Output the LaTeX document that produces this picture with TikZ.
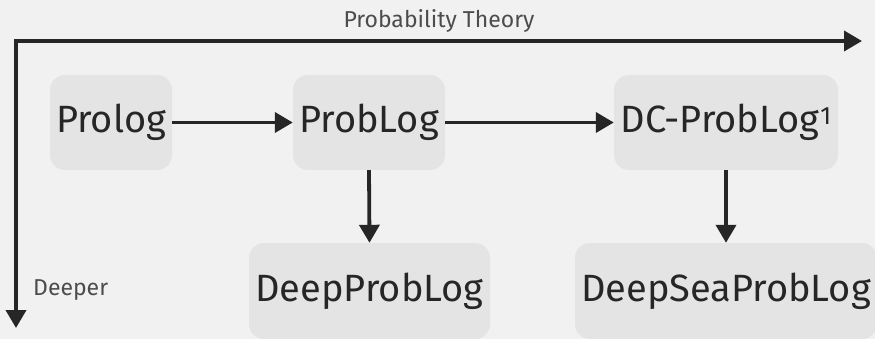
\documentclass[tikz,border=0pt]{standalone}
\usepackage{fontspec}
\setmainfont{Fira Sans}[Numbers=Lining]
\usetikzlibrary{arrows.meta}
\definecolor{bgc}{HTML}{F1F1F1}
\definecolor{boxc}{HTML}{E4E4E4}
\definecolor{ink}{HTML}{262626}
\definecolor{lbl}{HTML}{4C4C4C}
\begin{document}
\begin{tikzpicture}[x=1pt,y=-1pt,
  tbox/.style={fill=boxc, rounded corners=15pt, minimum height=95pt, inner sep=0pt,
     font=\fontsize{38}{40}\selectfont, text=ink, text height=28pt, text depth=8pt},
  conn/.style={draw=ink, line width=3.8pt, -{Triangle[length=18pt,width=20pt]}},
  axlbl/.style={font=\fontsize{23}{26}\selectfont, text=lbl, inner sep=0pt}]
\fill[bgc] (0,0) rectangle (875,339);
\useasboundingbox (0,0) rectangle (875,339);
\begin{scope}
\clip (0,0) rectangle (875,339);
\node[tbox, minimum width=122pt] (prolog) at (111,122.5) {Prolog};
\node[tbox, minimum width=152pt] (problog) at (369,122.5) {ProbLog};
\node[tbox, minimum width=224pt] (dc) at (726,122.5) {DC-ProbLog\kern1pt\raisebox{8pt}{\fontsize{25}{25}\selectfont 1}};
\node[tbox, minimum width=241pt, minimum height=96pt] (deep) at (369.5,291) {DeepProbLog};
\node[tbox, minimum width=302pt, minimum height=96pt] (sea) at (726,291) {DeepSeaProbLog};
\end{scope}
\coordinate (corner) at (16,41);
\coordinate (xend) at (862,41);
\coordinate (yend) at (16,328);
\draw[conn] (corner) ++(-1.9,0) -- (xend);
\draw[conn] (corner) -- (yend);
\node[axlbl, anchor=base] (pt) at (439,28) {Probability Theory};
\node[axlbl, anchor=base west] (deeper) at (33,295) {Deeper};
\draw[conn] (prolog) -- (problog);
\draw[conn] (problog) -- (dc);
\draw[conn] (problog.south) -- (deep.north);
\draw[conn] (dc.south) -- (sea.north);
\end{tikzpicture}
\end{document}
